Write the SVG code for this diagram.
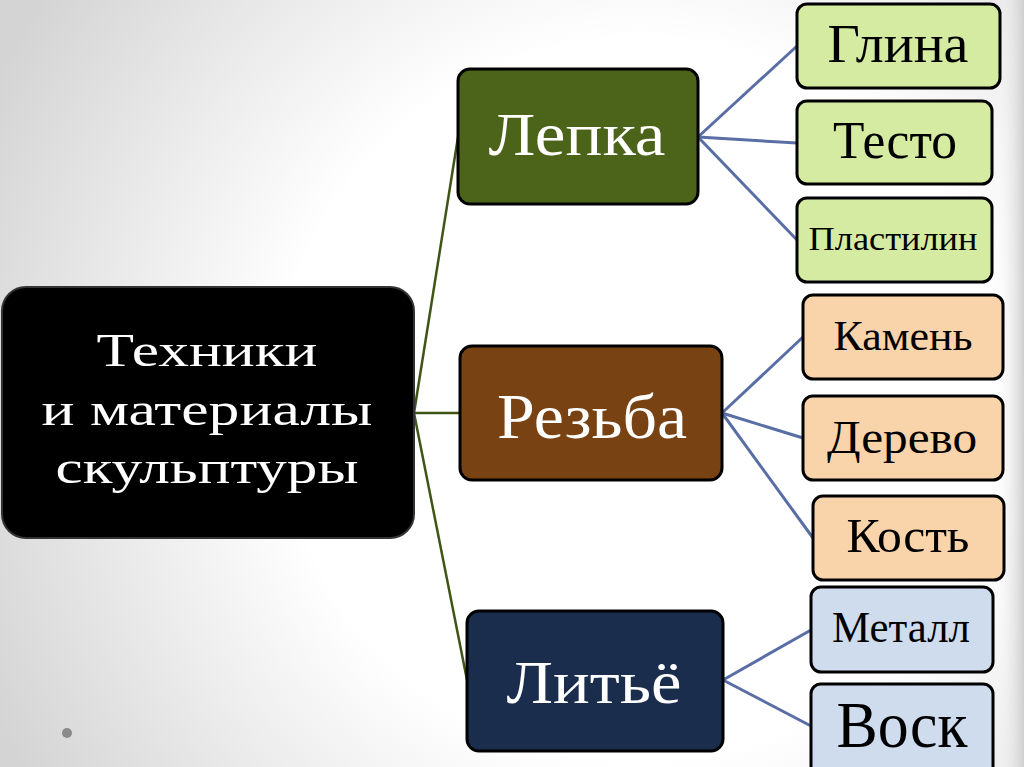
<svg xmlns="http://www.w3.org/2000/svg" width="1024" height="767" viewBox="0 0 1024 767">
<defs>
<radialGradient id="bg" cx="640" cy="400" r="720" gradientUnits="userSpaceOnUse">
<stop offset="0" stop-color="#ffffff"/>
<stop offset="0.5" stop-color="#ffffff"/>
<stop offset="1" stop-color="#d4d4d4"/>
</radialGradient>
<linearGradient id="edge" x1="0" y1="0" x2="1" y2="0">
<stop offset="0" stop-color="#ffffff" stop-opacity="0"/>
<stop offset="1" stop-color="#cfcfcf"/>
</linearGradient>
<style>
.box{stroke:#000;stroke-width:3}
.root{fill:#000;stroke:#333;stroke-width:2}
.t{font-family:"Liberation Serif","DejaVu Serif",serif;text-anchor:middle}
.w{fill:#fff}
.k{fill:#000}
.c1{stroke:#3f5417;stroke-width:2.5;fill:none}
.c2{stroke:#5a6ea6;stroke-width:3;fill:none}
.green{fill:#d5eba2}
.peach{fill:#f9d3aa}
.blue{fill:#cfdcee}
</style>
</defs>
<rect width="1024" height="767" fill="url(#bg)"/>
<rect x="995" y="0" width="29" height="767" fill="url(#edge)"/>
<circle cx="67" cy="733" r="5" fill="#8a8a8a"/>
<g id="connectors">
<line class="c1" x1="414" y1="413" x2="458" y2="137"/>
<line class="c1" x1="414" y1="413" x2="460" y2="413"/>
<line class="c1" x1="414" y1="413" x2="467" y2="680"/>
<line class="c2" x1="698" y1="137" x2="797" y2="46"/>
<line class="c2" x1="698" y1="137" x2="797" y2="143"/>
<line class="c2" x1="698" y1="137" x2="797" y2="240"/>
<line class="c2" x1="722" y1="413" x2="803" y2="337"/>
<line class="c2" x1="722" y1="413" x2="803" y2="438"/>
<line class="c2" x1="722" y1="413" x2="813" y2="538"/>
<line class="c2" x1="723" y1="680" x2="811" y2="630"/>
<line class="c2" x1="723" y1="680" x2="811" y2="726"/>
</g>
<g id="root">
<rect class="root" x="2" y="287" width="412" height="251" rx="24"/>
<text class="t w" x="207" y="366" font-size="46" textLength="221" lengthAdjust="spacingAndGlyphs">Техники</text>
<text class="t w" x="207" y="425" font-size="46" textLength="331" lengthAdjust="spacingAndGlyphs">и материалы</text>
<text class="t w" x="207" y="483" font-size="46" textLength="303" lengthAdjust="spacingAndGlyphs">скульптуры</text>
</g>
<g id="lepka">
<rect class="box" x="458" y="69" width="240" height="135" rx="12" fill="#4c6419"/>
<text class="t w" x="577" y="155" font-size="62" textLength="177" lengthAdjust="spacingAndGlyphs">Лепка</text>
</g>
<g id="rezba">
<rect class="box" x="460" y="346" width="262" height="134" rx="12" fill="#784212"/>
<text class="t w" x="592" y="438" font-size="63" textLength="190" lengthAdjust="spacingAndGlyphs">Резьба</text>
</g>
<g id="litye">
<rect class="box" x="467" y="611" width="256" height="140" rx="12" fill="#1b2d4d"/>
<text class="t w" x="594" y="703" font-size="62" textLength="175" lengthAdjust="spacingAndGlyphs">Литьё</text>
</g>
<g id="glina">
<rect class="box green" x="797" y="4" width="203" height="84" rx="10"/>
<text class="t k" x="898" y="62" font-size="55" textLength="141" lengthAdjust="spacingAndGlyphs">Глина</text>
</g>
<g id="testo">
<rect class="box green" x="797" y="101" width="195" height="83" rx="10"/>
<text class="t k" x="895" y="158" font-size="53" textLength="124" lengthAdjust="spacingAndGlyphs">Тесто</text>
</g>
<g id="plastilin">
<rect class="box green" x="797" y="198" width="195" height="84" rx="10"/>
<text class="t k" x="893" y="250" font-size="33" textLength="169" lengthAdjust="spacingAndGlyphs">Пластилин</text>
</g>
<g id="kamen">
<rect class="box peach" x="803" y="295" width="200" height="84" rx="10"/>
<text class="t k" x="903" y="350" font-size="42" textLength="139" lengthAdjust="spacingAndGlyphs">Камень</text>
</g>
<g id="derevo">
<rect class="box peach" x="803" y="396" width="200" height="84" rx="10"/>
<text class="t k" x="902" y="453" font-size="46" textLength="150" lengthAdjust="spacingAndGlyphs">Дерево</text>
</g>
<g id="kost">
<rect class="box peach" x="813" y="496" width="191" height="84" rx="10"/>
<text class="t k" x="908" y="552" font-size="48" textLength="123" lengthAdjust="spacingAndGlyphs">Кость</text>
</g>
<g id="metall">
<rect class="box blue" x="811" y="587" width="182" height="85" rx="10"/>
<text class="t k" x="901" y="642" font-size="44" textLength="138" lengthAdjust="spacingAndGlyphs">Металл</text>
</g>
<g id="vosk">
<rect class="box blue" x="811" y="684" width="182" height="95" rx="10"/>
<text class="t k" x="902" y="747" font-size="66" textLength="131" lengthAdjust="spacingAndGlyphs">Воск</text>
</g>
</svg>
